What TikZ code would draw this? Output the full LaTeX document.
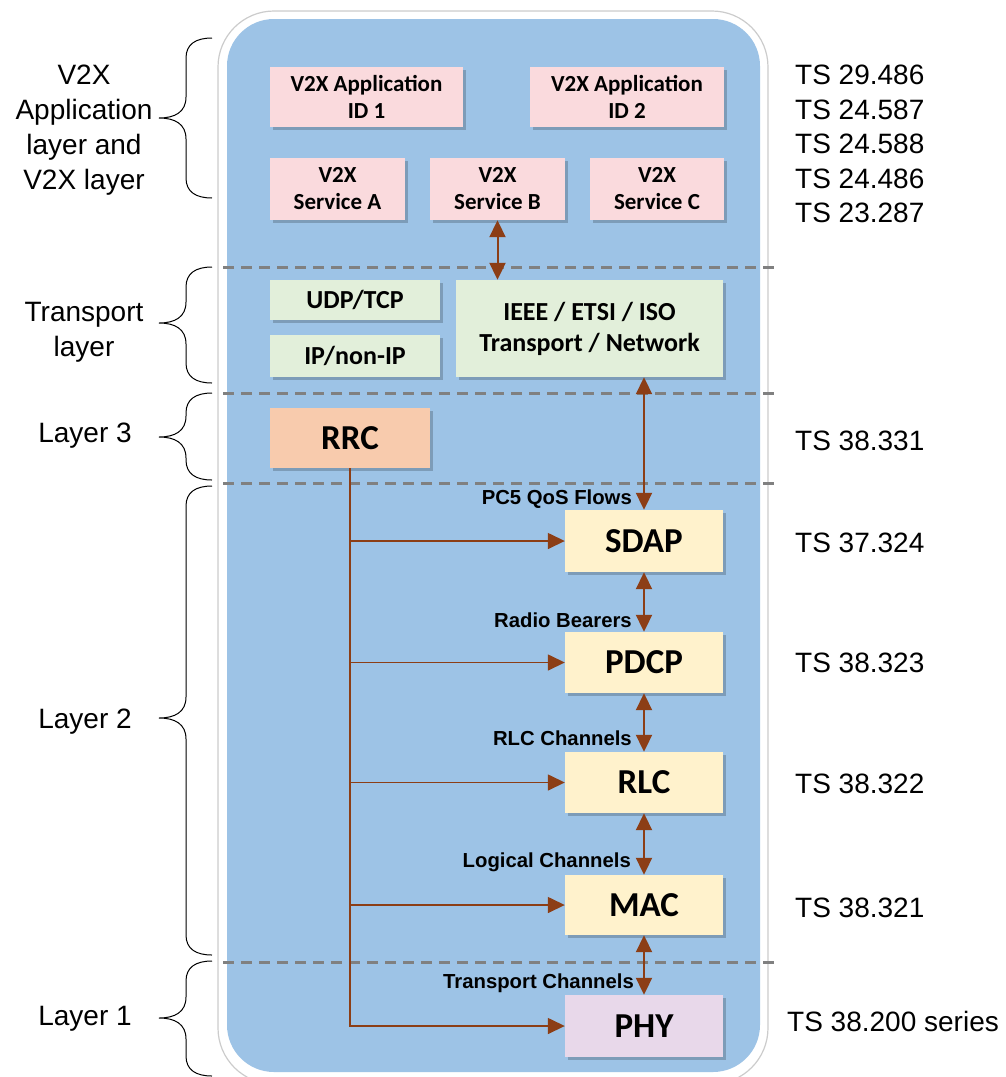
\documentclass[tikz,border=0pt]{standalone}
\usepackage{fontspec}
\setmainfont{Liberation Sans}
\newfontfamily\carl{Carlito}
\usetikzlibrary{arrows.meta,shadows}
\definecolor{bgblue}{RGB}{157,195,230}
\definecolor{pinkbox}{RGB}{250,218,221}
\definecolor{greenbox}{RGB}{226,239,218}
\definecolor{rrcbox}{RGB}{248,203,173}
\definecolor{yellowbox}{RGB}{255,242,204}
\definecolor{phybox}{RGB}{232,216,234}
\definecolor{arrbrown}{RGB}{140,62,22}
\definecolor{dashgray}{RGB}{128,128,128}
\tikzset{
  box/.style={draw=none, inner sep=0pt, align=center,
    drop shadow={shadow xshift=3pt, shadow yshift=-3pt, fill=black, opacity=0.2}},
  appbox/.style={box, fill=pinkbox, font=\carl\bfseries\fontsize{23}{27}\selectfont},
  trbox/.style={box, fill=greenbox, font=\carl\bfseries\fontsize{26}{31}\selectfont},
  protobox/.style={box, font=\carl\bfseries\fontsize{35}{38}\selectfont, minimum width=158pt},
  conn/.style={draw=arrbrown, line width=2pt, {Triangle[length=17pt,width=16pt]}-{Triangle[length=17pt,width=16pt]}},
  ctrl/.style={draw=arrbrown, line width=1.5pt, -{Triangle[length=17pt,width=16pt]}},
  chlabel/.style={font=\bfseries\fontsize{20.3}{24}\selectfont, inner sep=0pt, anchor=base east},
  sidelabel/.style={font=\fontsize{28}{35}\selectfont, inner sep=0pt},
  layerline/.style={draw=dashgray, line width=3pt, dash pattern=on 11pt off 7pt},
  bracestyle/.style={draw=black, line width=1pt}
}
\newcommand{\LayerBrace}[3]{%
  \draw[bracestyle] (212,#1) .. controls (196,#1) and (186,#1+6) .. (186,#1+20)
    -- (186,#2-21) .. controls (186,#2-6) and (175,#2) .. (159,#2)
    .. controls (175,#2) and (186,#2+6) .. (186,#2+21)
    -- (186,#3-20) .. controls (186,#3-6) and (196,#3) .. (212,#3);}
\begin{document}
\begin{tikzpicture}[x=1pt,y=-1pt]
\useasboundingbox (0,0) rectangle (1006,1077);
% outer frame
\draw[fill=white, draw=black!20, line width=1.2pt, rounded corners=56pt] (218,11) rectangle (768,1084);
\fill[bgblue, rounded corners=47pt] (227,19) rectangle (760,1072);
% layer separators
\draw[layerline] (223,267) -- (778,267);
\draw[layerline] (223,393) -- (778,393);
\draw[layerline] (223,483) -- (778,483);
\draw[layerline] (223,962) -- (778,962);
% application boxes
\node[appbox, minimum width=193pt, minimum height=60pt] (app1) at (366.5,97) {V2X Application\\ID 1};
\node[appbox, minimum width=194pt, minimum height=60pt] (app2) at (627,97) {V2X Application\\ID 2};
\node[appbox, minimum width=135pt, minimum height=62pt] (svA) at (337.5,189) {V2X\\Service A};
\node[appbox, minimum width=135pt, minimum height=62pt] (svB) at (497.5,189) {V2X\\Service B};
\node[appbox, minimum width=134pt, minimum height=62pt] (svC) at (657,189) {V2X\\Service C};
% transport boxes
\node[trbox, minimum width=170pt, minimum height=40pt] (udp) at (355,300) {UDP/TCP};
\node[trbox, minimum width=170pt, minimum height=42pt] (ip) at (355,356) {IP/non-IP};
\node[trbox, minimum width=267pt, minimum height=97pt] (ieee) at (589.5,328.5) {IEEE / ETSI / ISO\\Transport / Network};
% protocol boxes
\node[protobox, fill=rrcbox, minimum width=160pt, minimum height=60pt] (rrc) at (350,438) {RRC};
\node[protobox, fill=yellowbox, minimum height=62pt] (sdap) at (644,541) {SDAP};
\node[protobox, fill=yellowbox, minimum height=61pt] (pdcp) at (644,662.5) {PDCP};
\node[protobox, fill=yellowbox, minimum height=61pt] (rlc) at (644,782.5) {RLC};
\node[protobox, fill=yellowbox, minimum height=60pt] (mac) at (644,905) {MAC};
\node[protobox, fill=phybox, minimum height=62pt] (phy) at (644,1026) {PHY};
% vertical connectors
\draw[conn] (svB.south) -- (svB.south |- ieee.north);
\draw[conn] (sdap.north |- ieee.south) -- (sdap.north);
\draw[conn] (sdap.south) -- (pdcp.north);
\draw[conn] (pdcp.south) -- (rlc.north);
\draw[conn] (rlc.south) -- (mac.north);
\draw[conn] (mac.south) -- (phy.north);
% RRC control lines
\draw[ctrl] (rrc.south) -- (rrc.south |- phy.west) -- (phy.west);
\draw[ctrl] (rrc.south |- sdap.west) -- (sdap.west);
\draw[ctrl] (rrc.south |- pdcp.west) -- (pdcp.west);
\draw[ctrl] (rrc.south |- rlc.west) -- (rlc.west);
\draw[ctrl] (rrc.south |- mac.west) -- (mac.west);
% channel labels
\node[chlabel] (l1) at (632,504) {PC5 QoS Flows};
\node[chlabel] (l2) at (632,627) {Radio Bearers};
\node[chlabel] (l3) at (632,745) {RLC Channels};
\node[chlabel] (l4) at (631,867) {Logical Channels};
\node[chlabel] (l5) at (634,988) {Transport Channels};
% left labels
\node[sidelabel, anchor=north, align=center] (left1) at (84,65) {V2X\\Application\\layer and\\V2X layer};
\node[sidelabel, anchor=north, align=center] (left2) at (84,302) {Transport\\layer};
\node[sidelabel, anchor=base] (left3) at (85,442) {Layer 3};
\node[sidelabel, anchor=base] (left4) at (85,728) {Layer 2};
\node[sidelabel, anchor=base] (left5) at (85,1025) {Layer 1};
% braces
\LayerBrace{38}{118}{198}
\LayerBrace{267}{323}{383}
\LayerBrace{393}{437}{480}
\LayerBrace{486}{718}{955}
\LayerBrace{961}{1018}{1076}
% right labels
\node[sidelabel, anchor=north west, align=left, font=\fontsize{28}{34.5}\selectfont] (ts1) at (795,65) {TS 29.486\\TS 24.587\\TS 24.588\\TS 24.486\\TS 23.287};
\node[sidelabel, anchor=base west] (ts2) at (795,450) {TS 38.331};
\node[sidelabel, anchor=base west] (ts3) at (795,552) {TS 37.324};
\node[sidelabel, anchor=base west] (ts4) at (795,672) {TS 38.323};
\node[sidelabel, anchor=base west] (ts5) at (795,793) {TS 38.322};
\node[sidelabel, anchor=base west] (ts6) at (795,917) {TS 38.321};
\node[sidelabel, anchor=base west] (ts7) at (787,1031) {TS 38.200 series};
\end{tikzpicture}
\end{document}
